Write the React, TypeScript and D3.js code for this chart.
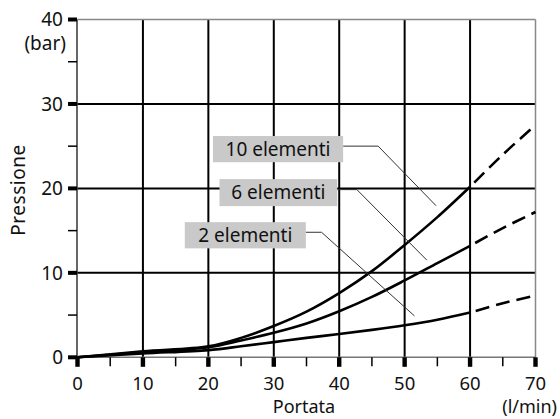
import React from 'react';
import * as d3 from 'd3';

// Portata (l/min) -> Pressione (bar)
const flowSolid = [0, 10, 20, 25, 30, 35, 40, 45, 50, 55, 60];
const flowDashed = [60, 65, 70];

const p10Solid = [0, 0.7, 1.3, 2.3, 3.7, 5.4, 7.6, 10.2, 13.3, 16.6, 20.2];
const p10Dashed = [20.2, 24.0, 27.5];
const p6Solid = [0, 0.6, 1.2, 2.0, 2.9, 4.0, 5.45, 7.15, 9.1, 11.15, 13.2];
const p6Dashed = [13.2, 15.3, 17.2];
const p2Solid = [0, 0.45, 0.85, 1.3, 1.8, 2.3, 2.75, 3.25, 3.8, 4.45, 5.3];
const p2Dashed = [5.3, 6.4, 7.3];

const xTicks = [0, 10, 20, 30, 40, 50, 60, 70];
const xMinor = [5, 15, 25, 35, 45, 55, 65];
const yTicks = [0, 10, 20, 30, 40];
const yMinor = [5, 15, 25, 35];

const labels = ['10 elementi', '6 elementi', '2 elementi'];
// box [x0, x1, yTop, yBottom], elbow x, tip [x, y] in data units
const labelBoxes = [
  [20.7, 40.6, 26.2, 23.1],
  [21.7, 39.7, 21.1, 17.9],
  [16.4, 34.9, 16.0, 12.9],
];
const labelElbowX = [45.95, 42.7, 37.3];
const labelTips = [
  [54.8, 17.95],
  [53.4, 11.5],
  [51.5, 4.9],
];

const W = 560;
const H = 419;
const font = '"Noto Sans", "Open Sans", sans-serif';

const App: React.FC = () => {
  const x = d3.scaleLinear().domain([0, 70]).range([77.5, 535.5]);
  const y = d3.scaleLinear().domain([0, 40]).range([357.3, 19.5]);

  const line = d3
    .line<[number, number]>()
    .x((d) => x(d[0]))
    .y((d) => y(d[1]))
    .curve(d3.curveCatmullRom.alpha(0.5));

  const solid = [p10Solid, p6Solid, p2Solid];
  const dashed = [p10Dashed, p6Dashed, p2Dashed];

  return (
    <svg
      width={W}
      height={H}
      style={{ position: 'absolute', left: 0, top: 0, background: '#fff' }}
      fontFamily={font}
    >
      {/* grid */}
      {xTicks.slice(1, -1).map((t) => (
        <line key={'gx' + t} x1={x(t)} x2={x(t)} y1={y(0)} y2={y(40)} stroke="#000" strokeWidth={2} />
      ))}
      {yTicks.slice(1, -1).map((t) => (
        <line key={'gy' + t} x1={x(0)} x2={x(70)} y1={y(t)} y2={y(t)} stroke="#000" strokeWidth={2} />
      ))}
      {/* frame */}
      <line x1={x(0)} x2={x(70)} y1={y(40)} y2={y(40)} stroke="#888" strokeWidth={1.5} />
      <line x1={x(70)} x2={x(70)} y1={y(0)} y2={y(40)} stroke="#888" strokeWidth={1.5} />
      <line x1={x(0)} x2={x(70)} y1={y(0)} y2={y(0)} stroke="#777" strokeWidth={1.5} />
      <line x1={x(0) - 0.5} x2={x(0) - 0.5} y1={y(0)} y2={y(40)} stroke="#000" strokeWidth={1.2} />

      {/* x ticks */}
      {xTicks.map((t) => (
        <rect key={'xt' + t} x={x(t) - 2.2} y={y(0)} width={4.4} height={9.5} fill="#000" />
      ))}
      {xMinor.map((t) => (
        <line key={'xm' + t} x1={x(t)} x2={x(t)} y1={y(0)} y2={y(0) + 9} stroke="#000" strokeWidth={1.5} />
      ))}
      {xTicks.map((t) => (
        <text key={'xl' + t} x={x(t)} y={389.5} textAnchor="middle" fontSize={18.5} fill="#111">
          {t}
        </text>
      ))}

      {/* y ticks */}
      {yTicks.map((t) => (
        <rect key={'yt' + t} x={68} y={y(t) - 2} width={9} height={4} fill="#000" />
      ))}
      {yMinor.map((t) => (
        <line key={'ym' + t} x1={68} x2={77} y1={y(t)} y2={y(t)} stroke="#000" strokeWidth={1.5} />
      ))}
      {yTicks.map((t) => (
        <text key={'yl' + t} x={63} y={y(t)} dy="0.35em" textAnchor="end" fontSize={19} fill="#111">
          {t}
        </text>
      ))}

      {/* axis titles */}
      <text x={66} y={50} textAnchor="end" fontSize={19} fill="#111">(bar)</text>
      <text
        transform={`translate(25,190) rotate(-90)`}
        textAnchor="middle"
        fontSize={19}
        fill="#111"
        style={{ letterSpacing: '0.5px' }}
      >
        Pressione
      </text>
      <text x={304} y={413} textAnchor="middle" fontSize={18} fill="#111">Portata</text>
      <text x={557} y={413} textAnchor="end" fontSize={18} fill="#111">(l/min)</text>

      {/* curves */}
      {solid.map((vals, i) => (
        <path
          key={'s' + i}
          d={line(flowSolid.map((f, j) => [f, vals[j]] as [number, number])) || ''}
          fill="none"
          stroke="#000"
          strokeWidth={2.6}
        />
      ))}
      {dashed.map((vals, i) => (
        <path
          key={'d' + i}
          d={line(flowDashed.map((f, j) => [f, vals[j]] as [number, number])) || ''}
          fill="none"
          stroke="#000"
          strokeWidth={2.6}
          strokeDasharray="14 7"
          strokeDashoffset={-6}
        />
      ))}

      {/* labels with leaders */}
      {labels.map((name, i) => {
        const [bx0, bx1, byt, byb] = labelBoxes[i];
        const cy = (y(byt) + y(byb)) / 2;
        const cyData = (byt + byb) / 2;
        const [tx, ty] = labelTips[i];
        return (
          <g key={name}>
            <polyline
              points={`${x(bx1)},${y(cyData) - 3} ${x(labelElbowX[i])},${y(cyData) - 3} ${x(tx)},${y(ty)}`}
              fill="none"
              stroke="#333"
              strokeWidth={1}
            />
            <rect x={x(bx0)} y={y(byt)} width={x(bx1) - x(bx0)} height={y(byb) - y(byt)} fill="#c9c9c9" />
            <text x={(x(bx0) + x(bx1)) / 2} y={cy} dy="0.36em" textAnchor="middle" fontSize={19} fill="#111">
              {name}
            </text>
          </g>
        );
      })}
    </svg>
  );
};

export default App;
